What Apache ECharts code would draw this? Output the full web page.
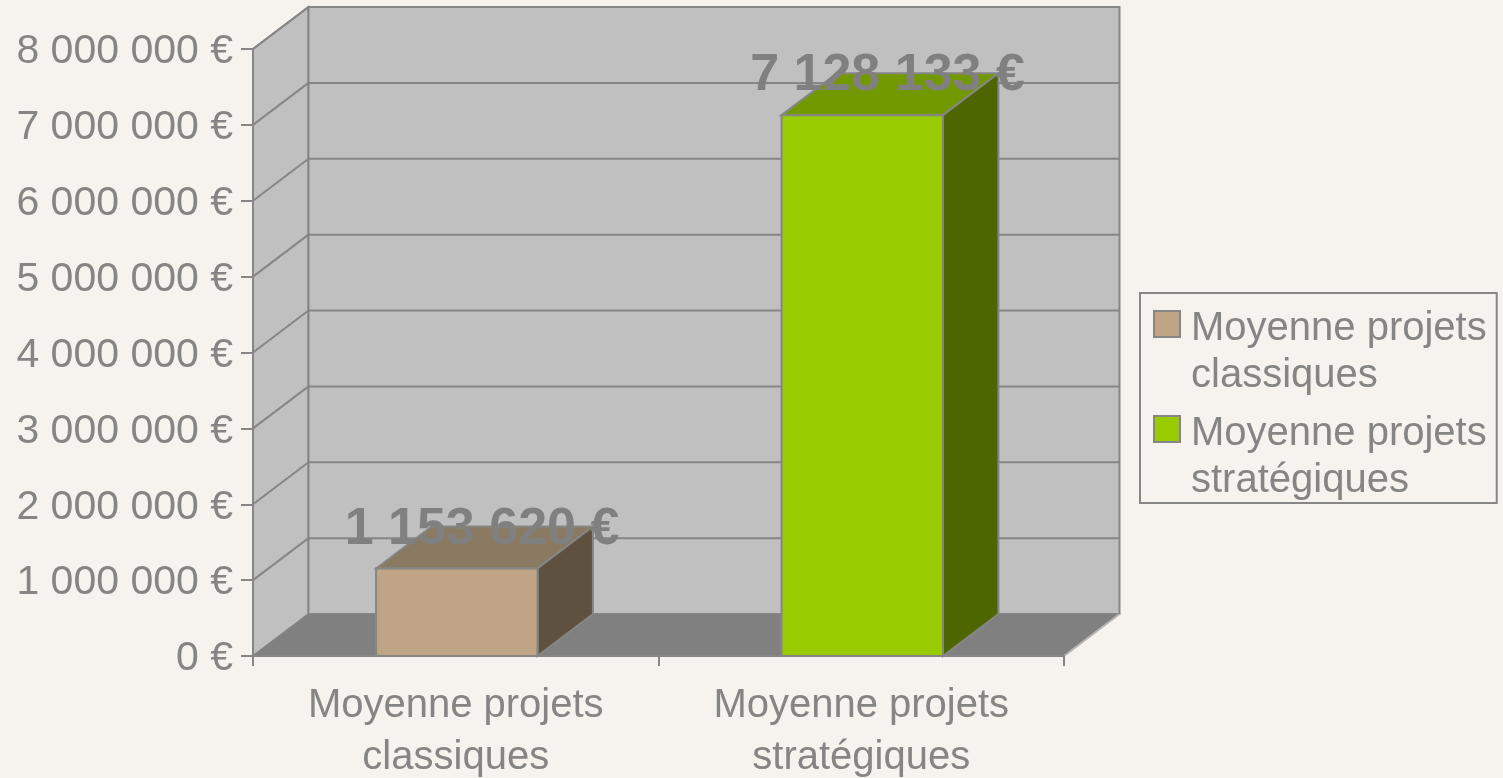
<!DOCTYPE html>
<html>
<head>
<meta charset="utf-8">
<style>
  html, body { margin: 0; padding: 0; background: #F6F3EE; }
  #chart { width: 1503px; height: 778px; }
</style>
<script src="https://cdn.jsdelivr.net/npm/echarts@6/dist/echarts.min.js"></script>
</head>
<body>
<div id="chart"></div>
<script>
var categories = ['Moyenne projets classiques', 'Moyenne projets stratégiques'];
var categoryLabels = ['Moyenne projets\nclassiques', 'Moyenne projets\nstratégiques'];
var valuesClassiques = [[0, 1153620]];
var valuesStrategiques = [[1, 7128133]];
var yTicks = [0, 1000000, 2000000, 3000000, 4000000, 5000000, 6000000, 7000000, 8000000];
var yTickLabels = ['0 €', '1 000 000 €', '2 000 000 €', '3 000 000 €', '4 000 000 €', '5 000 000 €', '6 000 000 €', '7 000 000 €', '8 000 000 €'];
var barLabels = ['1 153 620 €', '7 128 133 €'];

var FONT = '"Liberation Sans", Arial, sans-serif';
var TEXT = '#858585';
var LINE = '#868686';
var DX = 55.5, DY = -42; // profondeur de la fausse 3D

var chart = echarts.init(document.getElementById('chart'), null, { renderer: 'canvas' });

// murs et sol, lignes de grille
function renderWalls(params, api) {
    var cs = params.coordSys;
    var left = cs.x, right = cs.x + cs.width;
    var y = api.coord([0, api.value(1)])[1];
    var children = [];
    var lineStyle = { stroke: LINE, lineWidth: 2 };

    if (params.dataIndex === 0) {
        var top = cs.y, bottom = cs.y + cs.height;
        children.push({
            type: 'polygon',
            shape: { points: [[left, bottom], [left + DX, bottom + DY], [left + DX, top + DY], [left, top]] },
            style: { fill: '#C0C0C0', stroke: LINE, lineWidth: 2 }
        });
        children.push({
            type: 'rect',
            shape: { x: left + DX, y: top + DY, width: cs.width, height: cs.height },
            style: { fill: '#C0C0C0', stroke: LINE, lineWidth: 2 }
        });
        children.push({
            type: 'polygon',
            shape: { points: [[left, bottom], [left + DX, bottom + DY], [right + DX, bottom + DY], [right, bottom]] },
            style: { fill: '#808080' }
        });
        children.push({
            type: 'line',
            shape: { x1: right, y1: bottom, x2: right + DX, y2: bottom + DY },
            style: { stroke: '#B4B4B4', lineWidth: 2 }
        });
    } else {
        children.push({ type: 'line', shape: { x1: left, y1: y, x2: left + DX, y2: y + DY }, style: lineStyle });
        children.push({ type: 'line', shape: { x1: left + DX, y1: y + DY, x2: right + DX, y2: y + DY }, style: lineStyle });
    }
    return { type: 'group', children: children };
}

// barre : face, dessus, cote, puis le libelle
function renderBar(front, top, side) {
    return function (params, api) {
        var idx = api.value(0);
        var base = api.coord([idx, 0]);
        var head = api.coord([idx, api.value(1)]);
        var w = api.size([1, 0])[0] * 0.398;
        var x0 = base[0] - w / 2 + 1, x1 = x0 + w;
        var y0 = head[1], y1 = base[1];
        var s = { stroke: LINE, lineWidth: 2 };
        return {
            type: 'group',
            children: [
                { type: 'polygon', shape: { points: [[x0, y0], [x0 + DX, y0 + DY], [x1 + DX, y0 + DY], [x1, y0]] }, style: Object.assign({ fill: top }, s) },
                { type: 'polygon', shape: { points: [[x1, y0], [x1 + DX, y0 + DY], [x1 + DX, y1 + DY], [x1, y1]] }, style: Object.assign({ fill: side }, s) },
                { type: 'rect', shape: { x: x0, y: y0, width: w, height: y1 - y0 }, style: Object.assign({ fill: front }, s) },
                {
                    type: 'text',
                    style: {
                        x: (x0 + x1 + DX) / 2 - 2.5,
                        y: y0 + DY + 3,
                        text: barLabels[idx],
                        fill: '#808080',
                        font: 'bold 52px ' + FONT,
                        textAlign: 'center',
                        textVerticalAlign: 'middle'
                    }
                }
            ]
        };
    };
}

// le carre de legende reste en haut de l'item sur deux lignes
var legendIcon = 'path://M0,0L0,0M0,6H26V32H0ZM32,94L32,94';

var option = {
    backgroundColor: '#F6F3EE',
    animation: false,
    textStyle: { fontFamily: FONT },
    grid: { left: 253, right: 439, top: 49, bottom: 122, outerBoundsMode: 'none' },
    legend: {
        left: 1140,
        top: 293,
        orient: 'vertical',
        data: categories,
        selectedMode: false,
        icon: legendIcon,
        itemWidth: 32,
        itemHeight: 94,
        itemGap: 9,
        padding: [11, 10, -2, 13],
        borderColor: LINE,
        borderWidth: 2,
        itemStyle: { borderColor: LINE, borderWidth: 2 },
        formatter: function (name) {
            return categoryLabels[categories.indexOf(name)];
        },
        textStyle: { color: TEXT, fontSize: 40, lineHeight: 47, fontFamily: FONT }
    },
    xAxis: {
        type: 'category',
        data: categories,
        z: 5,
        axisLine: { lineStyle: { color: LINE, width: 2 } },
        axisTick: { show: true, alignWithLabel: false, length: 10, lineStyle: { color: LINE, width: 2 } },
        axisLabel: {
            margin: 24,
            color: TEXT,
            fontSize: 40,
            lineHeight: 52,
            fontFamily: FONT,
            interval: 0,
            formatter: function (v, i) { return categoryLabels[i]; }
        }
    },
    yAxis: {
        type: 'value',
        min: 0,
        max: 8000000,
        interval: 1000000,
        z: 5,
        axisLine: { show: true, lineStyle: { color: LINE, width: 2 } },
        axisTick: { show: true, length: 12, lineStyle: { color: LINE, width: 2 } },
        splitLine: { show: false },
        axisLabel: {
            margin: 20,
            color: TEXT,
            fontSize: 41,
            fontFamily: FONT,
            verticalAlign: 'top',
            lineHeight: 6,
            formatter: function (v) { return yTickLabels[yTicks.indexOf(v)]; }
        }
    },
    series: [
        {
            type: 'custom',
            silent: true,
            z: 1,
            renderItem: renderWalls,
            encode: { x: 0, y: 1 },
            data: yTicks.map(function (v) { return [0, v]; })
        },
        {
            type: 'custom',
            name: categories[0],
            silent: true,
            z: 2,
            itemStyle: { color: '#BFA585' },
            renderItem: renderBar('#BFA585', '#8B7A62', '#5F5140'),
            encode: { x: 0, y: 1 },
            data: valuesClassiques
        },
        {
            type: 'custom',
            name: categories[1],
            silent: true,
            z: 2,
            itemStyle: { color: '#99CC00' },
            renderItem: renderBar('#99CC00', '#739900', '#4D6600'),
            encode: { x: 0, y: 1 },
            data: valuesStrategiques
        }
    ]
};

chart.setOption(option);
window.addEventListener('resize', chart.resize);
</script>
</body>
</html>
